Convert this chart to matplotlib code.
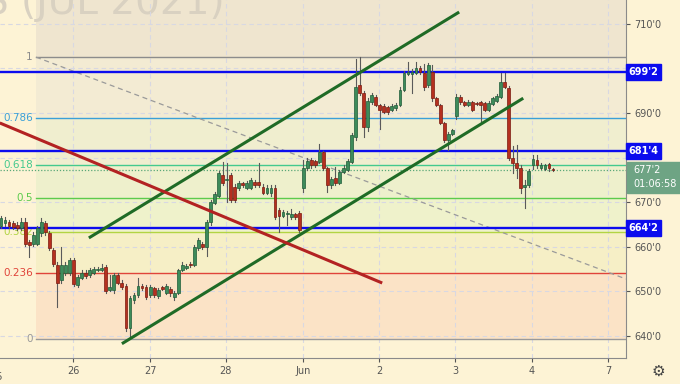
import matplotlib
matplotlib.use('Agg')
import matplotlib.pyplot as plt
from matplotlib.patches import Rectangle
import numpy as np

# ---------------- data ----------------
opens = [664.75,665.25,665.5,665.25,665.0,664.25,665.5,661.0,660.75,660.75,663.0,665.25,663.0,659.25,656.0,652.5,654.25,654.25,657.0,651.5,
         653.0,654.25,653.75,654.25,654.75,654.75,655.5,650.25,650.25,653.75,652.0,651.25,641.75,648.0,649.25,651.25,651.0,649.25,650.75,649.0,
         651.0,649.75,650.5,648.75,649.75,654.75,655.25,656.25,656.0,659.75,660.75,660.0,665.5,669.75,671.5,676.0,675.0,676.0,673.5,673.25,
         674.25,673.25,673.25,674.5,674.5,673.5,672.0,672.0,673.25,668.25,667.0,667.25,666.75,667.25,667.5,673.25,677.75,679.5,679.25,679.0,
         681.25,677.75,673.75,675.5,674.25,676.75,677.25,679.0,684.5,696.25,694.5,686.75,692.5,693.5,691.75,691.5,691.25,690.75,691.0,691.75,
         695.25,698.75,698.75,699.0,700.0,699.0,696.25,699.25,693.25,691.75,687.75,684.0,685.25,689.25,693.5,692.5,691.75,692.5,692.25,692.5,
         692.25,690.75,692.0,692.75,693.5,697.0,695.5,680.0,678.75,677.75,673.5,673.75,678.25,679.5,677.75,677.5,678.5,677.5]
highs = [667.0,666.75,666.0,665.75,665.5,666.5,666.5,661.5,663.25,664.75,666.5,665.75,663.5,659.75,656.5,660.0,656.5,657.5,657.5,653.75,
         654.75,654.75,655.25,655.5,655.5,656.25,656.0,653.75,654.25,654.25,652.5,651.75,649.0,649.75,653.0,651.75,651.5,651.5,651.0,650.75,
         651.25,651.75,651.0,650.0,655.0,656.5,656.25,656.5,660.5,662.0,661.0,666.0,670.5,672.25,677.0,679.0,678.75,676.5,674.0,674.75,
         674.5,674.75,675.5,675.0,678.75,674.0,673.75,673.75,673.75,668.75,668.25,668.0,668.5,667.5,668.0,679.5,680.0,680.0,679.5,683.0,
         681.5,678.0,675.75,678.0,677.25,678.25,679.75,685.5,702.0,702.5,695.0,693.25,694.5,694.0,692.0,692.0,691.5,692.0,692.25,695.75,
         699.5,701.5,699.75,701.5,700.5,701.0,701.25,700.75,693.5,692.0,688.0,685.75,686.5,694.25,694.0,692.75,693.0,692.75,692.5,692.75,
         692.5,692.75,693.5,694.25,699.0,699.0,696.0,682.5,682.75,678.25,675.0,677.5,680.5,680.5,678.75,678.5,678.75,677.75]
lows = [664.25,664.75,664.25,664.0,663.75,663.75,660.25,657.75,660.25,660.5,662.5,662.75,659.25,655.75,646.5,652.0,653.75,653.75,651.25,651.0,
        652.75,653.0,653.25,654.0,654.5,654.5,649.75,650.0,649.75,651.75,650.5,641.25,639.5,647.5,648.75,650.25,648.25,648.75,648.75,648.5,
        650.25,649.5,649.0,648.0,649.5,654.5,655.0,655.5,655.75,659.25,659.5,658.0,665.0,669.5,671.25,673.75,670.0,670.0,670.0,672.75,
        673.5,673.0,673.0,673.5,673.5,671.75,671.75,671.5,666.25,663.25,666.75,665.0,666.25,666.25,663.25,672.25,677.25,677.75,678.0,678.75,
        677.25,672.25,673.25,673.75,674.0,676.5,677.0,678.75,684.0,694.0,684.5,686.0,692.0,691.5,686.5,690.0,689.75,690.5,690.75,691.5,
        695.0,698.5,694.5,698.75,698.75,695.25,695.75,692.75,691.5,687.5,683.5,681.75,685.0,688.75,692.0,691.5,691.5,690.5,691.75,688.0,
        690.5,690.5,691.75,692.5,693.25,695.5,679.5,676.5,675.5,672.0,668.75,673.5,677.5,677.75,677.5,677.25,677.0,677.0]
closes = [666.5,666.0,664.75,664.5,664.25,665.5,660.75,660.5,662.75,664.25,665.5,663.25,659.75,656.25,652.0,656.0,656.0,657.0,651.75,653.25,
          654.25,653.5,654.75,655.0,655.0,655.25,650.0,651.0,653.75,652.0,651.0,641.75,648.5,649.25,651.25,650.75,648.75,651.0,649.25,650.25,
          650.5,651.25,649.75,649.75,654.75,656.0,655.75,656.0,660.0,661.5,660.0,665.5,670.0,671.75,676.5,674.25,675.25,670.5,670.5,674.25,
          673.75,674.25,675.0,673.75,673.75,672.0,673.25,673.25,666.75,667.0,667.75,667.5,667.25,666.75,663.75,677.75,679.25,678.25,678.25,681.25,
          677.75,673.75,675.25,674.25,676.75,677.75,679.25,685.0,695.75,694.5,686.75,692.75,694.0,691.75,690.75,690.25,690.25,691.5,691.75,695.25,
          699.0,699.25,699.25,700.0,699.25,695.75,700.75,693.25,691.75,687.75,684.0,685.25,686.25,693.5,692.5,691.75,692.5,690.75,692.0,691.75,
          690.75,692.25,693.25,693.75,697.0,695.75,680.0,678.75,677.75,673.25,673.75,677.0,679.75,678.25,678.25,678.25,677.75,677.25]

day_labels = ['25', '26', '27', '28', 'Jun', '2', '3', '4', '7']
day_ticks = [-1.2, 17.9, 37.0, 55.8, 74.9, 93.8, 112.7, 131.8, 150.6]   # bar index of day start

price_ticks = [640, 650, 660, 670, 690, 710]
grid_prices = [640, 650, 660, 670, 680, 690, 700, 710]

fib_high, fib_low = 702.5, 639.25
fib_start_bar = 8.7
fib_levels = [1, 0.786, 0.618, 0.5, 0.382, 0.236, 0]
fib_names = ['1', '0.786', '0.618', '0.5', '0.382', '0.236', '0']
fib_colors = ['#8c8c8c', '#3aa0d8', '#44c98e', '#5ccb4c', '#b2d443', '#e0443a', '#9a9a9a']
fib_fills = ['#efe5cf', '#f3ebd3', '#f0eecf', '#eef0cc', '#eff2cb', '#f6efc6', '#fbe3c6']

blue_levels = [699.25, 681.5, 664.25]
blue_labels = ["699'2", "681'4", "664'2"]

last_price_label = "677'2"
countdown_label = "01:06:58"

upper_channel = ([21.8, 113.7], [662.0, 712.6])
lower_channel = ([30.0, 129.6], [638.3, 693.3])
red_line = ([-0.3, 94.6], [687.75, 651.9])
fib_trend = ([8.7, 155.1], [702.5, 652.8])

# ---------------- style ----------------
BG = '#fdf3d5'
GREEN_FILL, GREEN_EDGE = '#3d8b5a', '#1f5c38'
RED_FILL, RED_EDGE = '#b5301f', '#7a1a10'
BLUE = '#0c0cee'

fig = plt.figure(figsize=(6.8, 3.84), dpi=100)
fig.patch.set_facecolor(BG)
ax = fig.add_axes([0, 26/384, 626/680, 358/384])
ax.set_facecolor(BG)
XMAX = 155.1
ax.set_xlim(-0.25, XMAX)
ax.set_ylim(635.1, 715.3)

# fib background bands
bounds = [715.3 + 5] + [fib_low + l * (fib_high - fib_low) for l in fib_levels]
for k in range(len(fib_fills)):
    ax.fill_between([fib_start_bar, XMAX + 5], bounds[k + 1], bounds[k],
                    color=fib_fills[k], lw=0, zorder=0.2)

# watermark
ax.text(225/626, 1 - 14/358, 'CORN FUTURES (JUL 2021)', transform=ax.transAxes,
        ha='right', va='baseline', fontsize=28, color='#d9d1c1', zorder=0.3)

# grid
for p in grid_prices:
    ax.axhline(p, color='#d8d8e2', lw=0.8, ls=(0, (4, 3)), zorder=0.4)
for t in day_ticks:
    ax.axvline(t, color='#d8d8e2', lw=0.8, ls=(0, (4, 3)), zorder=0.4)

# fib lines & labels
for l, name, c in zip(fib_levels, fib_names, fib_colors):
    v = fib_low + l * (fib_high - fib_low)
    ax.plot([fib_start_bar, XMAX + 5], [v, v], color=c, lw=1.0, zorder=1)
    ax.text(fib_start_bar - 0.8, v, name, ha='right', va='center', color=c, fontsize=7.5, zorder=1)

# fib trend dashed
ax.plot(*fib_trend, color='#9a9a9a', lw=0.9, ls=(0, (4, 3)), zorder=1.1)

# last price dotted
ax.axhline(closes[-1], color='#5aa878', lw=0.9, ls=(0, (1, 1.5)), zorder=1.2)

# blue lines
for v in blue_levels:
    ax.axhline(v, color=BLUE, lw=1.7, zorder=2)

# candles
x = np.arange(len(closes))
for i in x:
    o, h, l, c = opens[i], highs[i], lows[i], closes[i]
    up = c >= o
    fill = GREEN_FILL if up else RED_FILL
    edge = GREEN_EDGE if up else RED_EDGE
    ax.plot([i, i], [l, h], color='#5a5a5a', lw=0.8, zorder=3)
    hgt = max(abs(c - o), 0.2)
    ax.bar(i, hgt, bottom=min(o, c), width=0.7, color=fill, edgecolor=edge, lw=0.5, zorder=3.1)

# drawn trend lines
ax.plot(*upper_channel, color='#1f6b26', lw=2.2, solid_capstyle='butt', zorder=4)
ax.plot(*lower_channel, color='#1f6b26', lw=2.2, solid_capstyle='butt', zorder=4)
ax.plot(*red_line, color='#b32222', lw=2.2, solid_capstyle='butt', zorder=4)

# axes styling
for s in ['top', 'left']:
    ax.spines[s].set_visible(False)
ax.spines['right'].set_color('#8a8a8a')
ax.spines['bottom'].set_color('#8a8a8a')
ax.yaxis.tick_right()
ax.set_yticks(price_ticks)
ax.set_yticklabels([f"{p}'0" for p in price_ticks])
ax.tick_params(axis='y', labelsize=7, colors='#555555', length=3, pad=3)
ax.set_xticks(day_ticks[1:])
ax.set_xticklabels(day_labels[1:])
ax.tick_params(axis='x', labelsize=7, colors='#555555', length=3, pad=3)
ax.text(day_ticks[0], -0.04, day_labels[0], transform=ax.get_xaxis_transform(),
        ha='center', va='top', fontsize=7, color='#555555', clip_on=False)

# right-axis label boxes
for v, t in zip(blue_levels, blue_labels):
    ax.text(1.004, v, t, transform=ax.get_yaxis_transform(), ha='left', va='center',
            fontsize=7, color='white', fontweight='bold', clip_on=False, zorder=10,
            bbox=dict(boxstyle='square,pad=0.3', fc=BLUE, ec=BLUE))

# last price box
fig.canvas.draw()
py = ax.transData.transform((0, closes[-1]))[1]
fig.add_artist(Rectangle((627/680, (py - 23)/384), 53/680, 31/384,
                         transform=fig.transFigure, color='#6ea484', zorder=10))
fig.text(633/680, (py)/384, last_price_label, ha='left', va='center',
         fontsize=7, color='white', zorder=11)
fig.text(633/680, (py - 14)/384, countdown_label, ha='left', va='center',
         fontsize=7, color='white', zorder=11)

fig.text(658/680, 1 - 371/384, '\u2699', ha='center', va='center', fontsize=11, color='#444444')

fig.savefig('out.png', dpi=100, facecolor=BG)
